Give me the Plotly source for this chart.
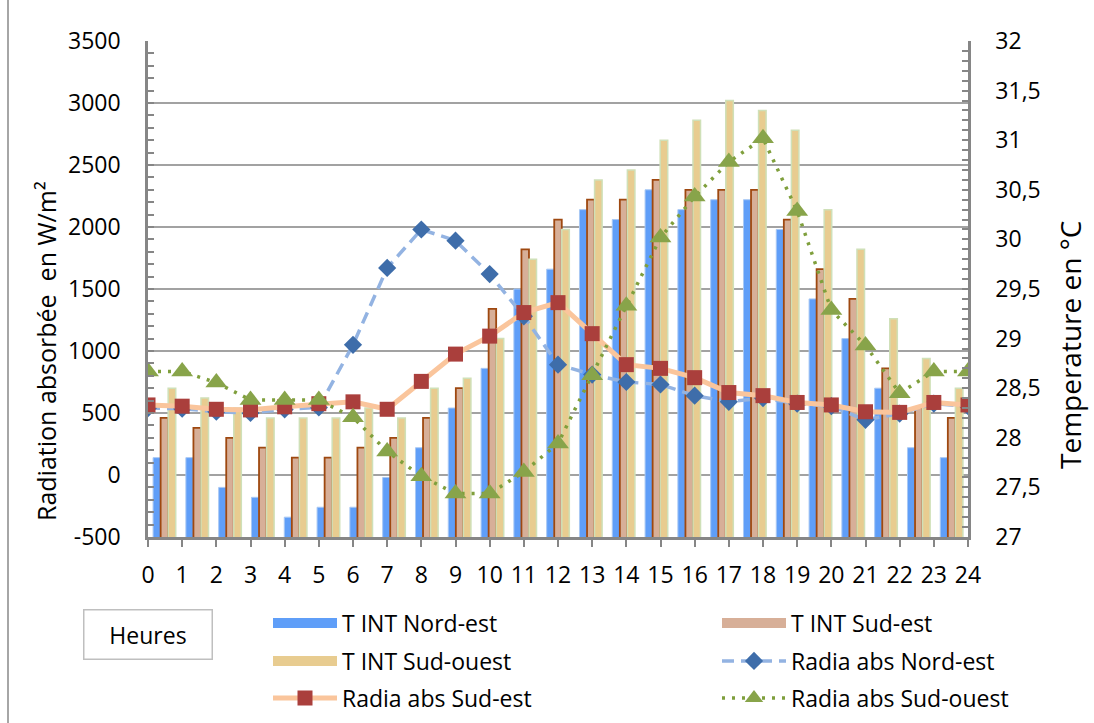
import plotly.graph_objects as go

# ---- data -----------------------------------------------------------------
hours = list(range(25))
hour_labels = [str(h) for h in hours]

# indoor temperature (°C), right axis
t_int_nord_est = [27.8, 27.8, 27.5, 27.4, 27.2, 27.3, 27.3, 27.6, 27.9, 28.3, 28.7, 29.5, 29.7,
                  30.3, 30.2, 30.5, 30.3, 30.4, 30.4, 30.1, 29.4, 29.0, 28.5, 27.9, 27.8]
t_int_sud_est = [28.2, 28.1, 28.0, 27.9, 27.8, 27.8, 27.9, 28.0, 28.2, 28.5, 29.3, 29.9, 30.2,
                 30.4, 30.4, 30.6, 30.5, 30.5, 30.5, 30.2, 29.7, 29.4, 28.7, 28.3, 28.2]
t_int_sud_ouest = [28.5, 28.4, 28.3, 28.2, 28.2, 28.2, 28.3, 28.2, 28.5, 28.6, 29.0, 29.8, 30.1,
                   30.6, 30.7, 31.0, 31.2, 31.4, 31.3, 31.1, 30.3, 29.9, 29.2, 28.8, 28.5]

# absorbed radiation (W/m²), left axis
radia_nord_est = [540, 535, 510, 500, 530, 545, 1050, 1670, 1980, 1890, 1620, 1280, 890,
                  810, 750, 730, 640, 590, 620, 575, 555, 445, 495, 575, 555]
radia_sud_est = [565, 555, 530, 525, 550, 575, 590, 530, 755, 975, 1120, 1310, 1390,
                 1140, 890, 860, 785, 665, 640, 585, 565, 510, 505, 585, 565]
radia_sud_ouest = [835, 835, 745, 605, 605, 605, 465, 190, -10, -150, -150, 25, 255,
                   805, 1365, 1915, 2245, 2525, 2715, 2130, 1330, 1045, 660, 835, 835]

rad_ticks = [-500, 0, 500, 1000, 1500, 2000, 2500, 3000, 3500]
rad_labels = ["-500", "0", "500", "1000", "1500", "2000", "2500", "3000", "3500"]
temp_ticks = [27, 27.5, 28, 28.5, 29, 29.5, 30, 30.5, 31, 31.5, 32]
temp_labels = ["27", "27,5", "28", "28,5", "29", "29,5", "30", "30,5", "31", "31,5", "32"]

# ---- geometry helpers (pixel -> paper) -------------------------------------
W, H = 1094, 723
ML, MR, MT, MB = 148, 126, 41, 186
PW, PH = W - ML - MR, H - MT - MB


def px(x):
    return (x - ML) / PW


def py(y):
    return (H - MB - y) / PH


FONT = "Open Sans"
GRAY = "#868686"

C_NE_BAR = "#5F9EF8"
C_SE_BAR = "#D7AF98"
C_SE_EDGE = "#9E4810"
C_SO_BAR = "#E8CC90"
C_SO_EDGE = "#CFE0B8"

fig = go.Figure()

# ---- temperature bars (bottom layer, right axis) ---------------------------
fig.add_trace(go.Bar(x=hours, y=t_int_nord_est, name="T INT Nord-est", legendgroup="ne_bar",
                     showlegend=False, xaxis="x", yaxis="y",
                     marker=dict(color=C_NE_BAR, line=dict(color="#A8C8F4", width=1))))
fig.add_trace(go.Bar(x=hours, y=t_int_sud_est, name="T INT Sud-est", legendgroup="se_bar",
                     showlegend=False, xaxis="x", yaxis="y",
                     marker=dict(color=C_SE_BAR, line=dict(color=C_SE_EDGE, width=1.8))))
fig.add_trace(go.Bar(x=hours, y=t_int_sud_ouest, name="T INT Sud-ouest", legendgroup="so_bar",
                     showlegend=False, xaxis="x", yaxis="y",
                     marker=dict(color=C_SO_BAR, line=dict(color=C_SO_EDGE, width=1.5))))

# ---- radiation lines (top layer, left axis) --------------------------------
fig.add_trace(go.Scatter(x=hours, y=radia_nord_est, name="Radia abs Nord-est", legend="legend4",
                         xaxis="x2", yaxis="y2", mode="lines+markers",
                         line=dict(color="#93B3E2", width=3.5, dash="12px,7px"),
                         marker=dict(symbol="diamond", size=14, color="#3E6DAA")))
fig.add_trace(go.Scatter(x=hours, y=radia_sud_est, name="Radia abs Sud-est", legend="legend5",
                         xaxis="x2", yaxis="y2", mode="lines+markers",
                         line=dict(color="#FAC59C", width=5),
                         marker=dict(symbol="square", size=15, color="#AA3F3C")))
fig.add_trace(go.Scatter(x=hours, y=radia_sud_ouest, name="Radia abs Sud-ouest", legend="legend6",
                         xaxis="x2", yaxis="y2", mode="lines+markers",
                         line=dict(color="#7F9F3C", width=3.5, dash="3px,7px"),
                         marker=dict(symbol="triangle-up", size=19, color="#88A44A")))

# ---- legend swatches for the bar series ------------------------------------
for name, color, grp, leg in [("T INT Nord-est", C_NE_BAR, "ne_bar", "legend"),
                              ("T INT Sud-est", C_SE_BAR, "se_bar", "legend2"),
                              ("T INT Sud-ouest", C_SO_BAR, "so_bar", "legend3")]:
    fig.add_trace(go.Scatter(x=[None], y=[None], name=name, legendgroup=grp, legend=leg,
                             xaxis="x2", yaxis="y2", mode="lines",
                             line=dict(color=color, width=15)))

# ---- legends: one per entry, laid out in two columns -----------------------
col_x = [268, 717]
row_y = [623, 661, 698]
legend_slots = {
    "legend": (0, 0), "legend2": (1, 0),
    "legend3": (0, 1), "legend4": (1, 1),
    "legend5": (0, 2), "legend6": (1, 2),
}
legend_layout = {}
for key, (c, r) in legend_slots.items():
    legend_layout[key] = dict(x=px(col_x[c]), y=py(row_y[r]), xanchor="left", yanchor="middle",
                              orientation="h", itemwidth=64, bgcolor="rgba(0,0,0,0)",
                              font=dict(family=FONT, size=23, color="black"))

tick_font = dict(family=FONT, size=23, color="black")

fig.update_layout(
    width=W, height=H, autosize=False,
    margin=dict(l=ML, r=MR, t=MT, b=MB, pad=0, autoexpand=False),
    paper_bgcolor="white", plot_bgcolor="white",
    barmode="group", bargap=0.31, bargroupgap=0,
    font=dict(family=FONT, size=23, color="black"),
    showlegend=True,
    xaxis=dict(range=[-0.5, 24.5], visible=False, fixedrange=True, automargin=False),
    yaxis=dict(range=[27, 32], side="right", anchor="x", automargin=False,
               tickmode="array", tickvals=temp_ticks, ticktext=temp_labels, tickfont=tick_font,
               ticks="inside", ticklen=6, tickwidth=1.5, tickcolor=GRAY,
               minor=dict(dtick=0.1, tick0=27, ticks="inside", ticklen=6, tickwidth=1.5,
                          tickcolor=GRAY, showgrid=False),
               showline=True, linecolor=GRAY, linewidth=2.5,
               showgrid=False, zeroline=False, ticklabelstandoff=20),
    xaxis2=dict(range=[0, 24], overlaying="x", anchor="y2", side="bottom", automargin=False,
                tickmode="array", tickvals=hours, ticktext=hour_labels, tickfont=tick_font,
                ticks="outside", ticklen=7, tickwidth=2, tickcolor=GRAY,
                showline=True, linecolor=GRAY, linewidth=2.5,
                showgrid=False, zeroline=False, ticklabelstandoff=9),
    yaxis2=dict(range=[-500, 3500], overlaying="y", side="left", anchor="x2", automargin=False,
                tickmode="array", tickvals=rad_ticks, ticktext=rad_labels, tickfont=tick_font,
                ticks="inside", ticklen=6, tickwidth=1.5, tickcolor=GRAY,
                minor=dict(dtick=100, tick0=-500, ticks="inside", ticklen=6, tickwidth=1.5,
                           tickcolor=GRAY, showgrid=False),
                showline=True, linecolor=GRAY, linewidth=2.5,
                showgrid=True, gridcolor="#A2A2A2", gridwidth=1.8,
                zeroline=False, ticklabelstandoff=20),
    **legend_layout,
)

# axis titles and the category caption
fig.add_annotation(text="Radiation absorbée \u00a0en W/m²", textangle=-90,
                   x=px(46), y=py(351), xref="paper", yref="paper",
                   xanchor="center", yanchor="middle", showarrow=False,
                   font=dict(family=FONT, size=25, color="black"))
fig.add_annotation(text="Temperature en °C", textangle=-90,
                   x=px(1070), y=py(345), xref="paper", yref="paper",
                   xanchor="center", yanchor="middle", showarrow=False,
                   font=dict(family=FONT, size=28, color="black"))
fig.add_annotation(text="Heures", x=px(147.5), y=py(634), xref="paper", yref="paper",
                   xanchor="center", yanchor="middle", showarrow=False,
                   width=123, height=44, borderpad=2,
                   bordercolor="#BFBFBF", borderwidth=1.5, bgcolor="white",
                   font=dict(family=FONT, size=23, color="black"))

# chart-area frame edge on the left
fig.add_shape(type="line", xref="paper", yref="paper",
              x0=px(8), x1=px(8), y0=py(0), y1=py(H),
              line=dict(color="#A6A6A6", width=2))

fig.write_html("out.html")
